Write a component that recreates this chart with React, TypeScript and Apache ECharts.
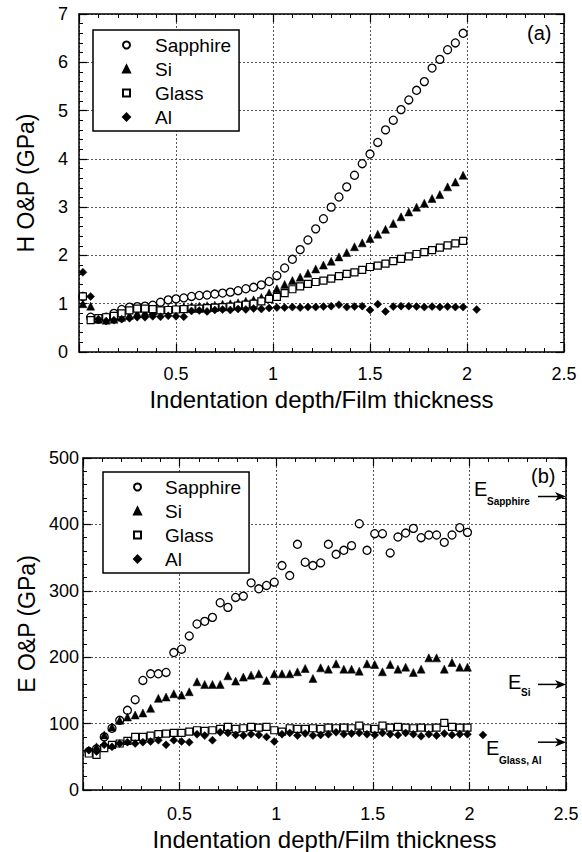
import React, { useEffect, useRef } from "react";
import * as echarts from "echarts";

// ---------- data ----------
const seriesNames = ["Sapphire", "Si", "Glass", "Al"];

const depthTop = [
  0.02, 0.06, 0.1, 0.14, 0.18, 0.22, 0.26, 0.3, 0.34, 0.38,
  0.42, 0.46, 0.5, 0.54, 0.58, 0.62, 0.66, 0.7, 0.74, 0.78,
  0.82, 0.86, 0.9, 0.94, 0.98, 1.02, 1.06, 1.1, 1.14, 1.18,
  1.22, 1.26, 1.3, 1.34, 1.38, 1.42, 1.46, 1.5, 1.54, 1.58,
  1.62, 1.66, 1.7, 1.74, 1.78, 1.82, 1.86, 1.9, 1.94, 1.98,
];
const alLastDepthTop = 2.05;

const hSapphire = [
  1.15, 0.72, 0.68, 0.72, 0.8, 0.88, 0.93, 0.94, 0.95, 0.97,
  1.03, 1.08, 1.1, 1.12, 1.15, 1.17, 1.18, 1.2, 1.22, 1.24,
  1.27, 1.31, 1.34, 1.39, 1.46, 1.58, 1.74, 1.92, 2.12, 2.32,
  2.55, 2.76, 3.0, 3.21, 3.42, 3.66, 3.9, 4.1, 4.34, 4.6,
  4.8, 5.02, 5.22, 5.42, 5.6, 5.88, 6.06, 6.26, 6.4, 6.6,
];
const hSi = [
  1.0, 0.95, 0.68, 0.66, 0.68, 0.72, 0.76, 0.8, 0.82, 0.85,
  0.88, 0.9, 0.92, 0.93, 0.94, 0.95, 0.96, 0.97, 0.99, 1.0,
  1.02, 1.05, 1.08, 1.13, 1.22, 1.31, 1.4, 1.48, 1.55, 1.63,
  1.72, 1.8, 1.88, 1.97, 2.06, 2.18, 2.26, 2.35, 2.44, 2.54,
  2.66, 2.8, 2.9, 3.0, 3.08, 3.18, 3.26, 3.42, 3.52, 3.66,
];
const hGlass = [
  1.15, 0.66, 0.7, 0.72, 0.75, 0.8, 0.86, 0.9, 0.9, 0.89,
  0.86, 0.87, 0.88, 0.89, 0.9, 0.9, 0.91, 0.92, 0.93, 0.94,
  0.96, 0.98, 1.0, 1.05, 1.1, 1.14, 1.22, 1.3, 1.36, 1.41,
  1.45, 1.48, 1.52, 1.57, 1.62, 1.65, 1.7, 1.76, 1.79, 1.83,
  1.88, 1.93, 1.98, 2.03, 2.07, 2.11, 2.16, 2.21, 2.25, 2.3,
];
const hAl = [
  1.65, 1.15, 0.68, 0.64, 0.66, 0.68, 0.7, 0.72, 0.72, 0.74,
  0.73, 0.75, 0.74, 0.73, 0.85, 0.86, 0.84, 0.87, 0.88, 0.87,
  0.89, 0.88, 0.9, 0.89, 0.91, 0.92, 0.92, 0.93, 0.92, 0.93,
  0.93, 0.94, 0.95, 0.98, 0.93, 0.94, 0.95, 0.87, 0.99, 0.84,
  0.94, 0.95, 0.95, 0.94, 0.93, 0.94, 0.93, 0.94, 0.93, 0.93,
  0.88,
];

const depthBottom = [
  0.03, 0.07, 0.11, 0.15, 0.19, 0.23, 0.27, 0.31, 0.35, 0.39,
  0.43, 0.47, 0.51, 0.55, 0.59, 0.63, 0.67, 0.71, 0.75, 0.79,
  0.83, 0.87, 0.91, 0.95, 0.99, 1.03, 1.07, 1.11, 1.15, 1.19,
  1.23, 1.27, 1.31, 1.35, 1.39, 1.43, 1.47, 1.51, 1.55, 1.59,
  1.63, 1.67, 1.71, 1.75, 1.79, 1.83, 1.87, 1.91, 1.95, 1.99,
];
const alLastDepthBottom = 2.07;

const eSapphire = [
  58, 62, 80, 93, 105, 120, 136, 165, 175, 175,
  177, 207, 212, 232, 250, 254, 260, 282, 275, 290,
  292, 312, 303, 308, 313, 338, 323, 370, 343, 338,
  342, 370, 355, 361, 368, 401, 361, 386, 386, 357,
  381, 387, 394, 380, 384, 384, 373, 384, 395, 388,
];
const eSi = [
  58, 65, 83, 95, 105, 110, 113, 116, 123, 138,
  140, 145, 143, 148, 163, 159, 159, 159, 172, 164,
  170, 173, 175, 165, 175, 175, 175, 178, 183, 168,
  184, 182, 190, 182, 182, 179, 190, 189, 178, 189,
  182, 185, 177, 182, 199, 199, 182, 192, 185, 185,
];
const eGlass = [
  55, 53, 63, 68, 70, 74, 80, 80, 82, 84,
  85, 86, 86, 88, 90, 89, 90, 92, 95, 92,
  93, 95, 94, 95, 90, 88, 93, 92, 92, 93,
  92, 94, 93, 94, 93, 97, 93, 92, 97, 94,
  95, 94, 93, 94, 93, 94, 101, 95, 94, 94,
];
const eAl = [
  60, 58, 68, 65, 70, 72, 70, 72, 73, 75,
  68, 75, 73, 72, 84, 82, 75, 87, 86, 83,
  82, 84, 83, 80, 73, 84, 86, 82, 85, 82,
  83, 84, 87, 84, 85, 86, 84, 83, 86, 84,
  83, 86, 84, 81, 84, 82, 85, 83, 84, 84,
  83,
];

// reference moduli drawn as arrows at the right edge of panel (b)
const modulusLabels = ["Sapphire", "Si", "Glass, Al"];
const modulusValues = [442, 159, 72];

const xTitle = "Indentation depth/Film thickness";
const yTitleTop = "H O&P (GPa)";
const yTitleBottom = "E O&P (GPa)";

// ---------- styling ----------
const FONT = "Liberation Sans, Arial, Helvetica, sans-serif";
const INK = "#000";

const symbolStyles: Record<string, any> = {
  Sapphire: { symbol: "circle", symbolSize: 8, itemStyle: { color: "#fff", borderColor: INK, borderWidth: 1.3, opacity: 1 } },
  Si: { symbol: "triangle", symbolSize: 8, itemStyle: { color: INK, borderColor: INK, borderWidth: 0.5, opacity: 1 } },
  Glass: { symbol: "rect", symbolSize: 7, itemStyle: { color: "#fff", borderColor: INK, borderWidth: 1.2, opacity: 1 } },
  Al: { symbol: "diamond", symbolSize: 8, itemStyle: { color: INK, borderColor: INK, borderWidth: 0.5, opacity: 1 } },
};

function pairs(xs: number[], ys: number[]) {
  return ys.map((y, i) => [xs[i], y]);
}

function xAxisPair(gridIndex: number, labelMargin: number, nameGap: number) {
  const common = {
    type: "value",
    gridIndex,
    min: 0,
    max: 2.5,
    interval: 0.5,
    axisLine: { show: true, onZero: false, lineStyle: { color: INK, width: 1.5 } },
    axisTick: { show: true, inside: true, length: 8, lineStyle: { color: INK, width: 1.2 } },
    minorTick: { show: true, splitNumber: 5, length: 4, lineStyle: { color: INK, width: 1 } },
  };
  return [
    {
      ...common,
      position: "bottom",
      splitLine: { show: true, lineStyle: { color: "#555", type: [2, 2], width: 1 } },
      axisLabel: {
        show: true,
        margin: labelMargin,
        fontSize: 18,
        color: INK,
        fontFamily: FONT,
        formatter: (v: number) => (v === 0 ? "" : String(v)),
      },
      name: xTitle,
      nameLocation: "middle",
      nameGap,
      nameTextStyle: { fontSize: 24, color: INK, fontFamily: FONT },
    },
    {
      ...common,
      position: "top",
      splitLine: { show: false },
      axisLabel: { show: false },
    },
  ];
}

function yAxisPair(gridIndex: number, max: number, interval: number, labelMargin: number, title: string, nameGap: number) {
  const common = {
    type: "value",
    gridIndex,
    min: 0,
    max,
    interval,
    axisLine: { show: true, onZero: false, lineStyle: { color: INK, width: 1.5 } },
    axisTick: { show: true, inside: true, length: 8, lineStyle: { color: INK, width: 1.2 } },
    minorTick: { show: true, splitNumber: 5, length: 4, lineStyle: { color: INK, width: 1 } },
  };
  return [
    {
      ...common,
      position: "left",
      splitLine: { show: true, lineStyle: { color: "#555", type: [2, 2], width: 1 } },
      axisLabel: { show: true, margin: labelMargin, fontSize: 18, color: INK, fontFamily: FONT },
      name: title,
      nameLocation: "middle",
      nameRotate: 90,
      nameGap,
      nameTextStyle: { fontSize: 23, color: INK, fontFamily: FONT },
    },
    {
      ...common,
      position: "right",
      splitLine: { show: false },
      axisLabel: { show: false },
    },
  ];
}

function legendAt(left: number, top: number, padLeft: number, textPad: number) {
  return {
    show: true,
    orient: "vertical",
    left,
    top,
    data: seriesNames,
    itemWidth: 7,
    itemHeight: 7,
    itemGap: 4,
    padding: [5, 8, 4, padLeft],
    borderColor: INK,
    borderWidth: 1.5,
    borderRadius: 0,
    backgroundColor: "#fff",
    selectedMode: false,
    textStyle: { fontFamily: FONT, fontSize: 19, color: INK, lineHeight: 20, padding: [0, 0, 0, textPad] },
  };
}

export default function App() {
  const ref = useRef<HTMLDivElement>(null);

  useEffect(() => {
    if (!ref.current) return;
    const chart = echarts.init(ref.current, null, { renderer: "svg" });

    const topSeries = [hSapphire, hSi, hGlass, hAl].map((vals, k) => {
      const name = seriesNames[k];
      const xs = name === "Al" ? [...depthTop, alLastDepthTop] : depthTop;
      return { type: "scatter", name, xAxisIndex: 0, yAxisIndex: 0, data: pairs(xs, vals), z: 3 + k, ...symbolStyles[name] };
    });
    const bottomSeries = [eSapphire, eSi, eGlass, eAl].map((vals, k) => {
      const name = seriesNames[k];
      const xs = name === "Al" ? [...depthBottom, alLastDepthBottom] : depthBottom;
      return { type: "scatter", name, xAxisIndex: 2, yAxisIndex: 2, data: pairs(xs, vals), z: 3 + k, ...symbolStyles[name] };
    });

    const topX = xAxisPair(0, 13, 35);
    const botX = xAxisPair(1, 15, 37);
    const topY = yAxisPair(0, 7, 1, 11, yTitleTop, 42);
    const botY = yAxisPair(1, 500, 100, 4, yTitleBottom, 42);

    chart.setOption({
      animation: false,
      backgroundColor: "#fff",
      grid: [
        { left: 79, top: 14, width: 485, height: 338 },
        { left: 83, top: 458, width: 483, height: 334 },
      ],
      xAxis: [...topX, ...botX],
      yAxis: [...topY, ...botY],
      legend: [legendAt(93, 30, 29, 20), legendAt(103, 472, 30, 19)],
      series: [...topSeries, ...bottomSeries],
    });

    // annotations positioned from axis values
    const annLayout = [
      { eDx: -92, eDy: -8, sDx: -79, sDy: 5 },
      { eDx: -58, eDy: -2, sDx: -45, sDy: 8 },
      { eDx: -80, eDy: 6, sDx: -67, sDy: 18 },
    ];
    const graphics: any[] = [];
    modulusValues.forEach((v, i) => {
      const p = chart.convertToPixel({ xAxisIndex: 2, yAxisIndex: 2 }, [2.5, v]) as number[];
      const xr = p[0];
      const y = p[1];
      const L = annLayout[i];
      graphics.push({
        type: "line",
        shape: { x1: xr - 28, y1: y, x2: xr - 8, y2: y },
        style: { stroke: INK, lineWidth: 1.5 },
        z: 20,
      });
      graphics.push({
        type: "polygon",
        shape: { points: [[xr - 11, y - 4.5], [xr, y], [xr - 11, y + 4.5], [xr - 8, y]] },
        style: { fill: INK },
        z: 20,
      });
      graphics.push({
        type: "text",
        x: xr + L.eDx,
        y: y + L.eDy,
        style: { text: "E", font: `20px ${FONT}`, fill: INK, verticalAlign: "middle" },
        z: 20,
      });
      graphics.push({
        type: "text",
        x: xr + L.sDx,
        y: y + L.sDy,
        style: { text: modulusLabels[i], font: `bold 10px ${FONT}`, fill: INK, verticalAlign: "middle" },
        z: 20,
      });
    });
    graphics.push({ type: "text", left: 527, top: 23, style: { text: "(a)", font: `20px ${FONT}`, fill: INK }, z: 20 });
    graphics.push({ type: "text", left: 531, top: 466, style: { text: "(b)", font: `20px ${FONT}`, fill: INK }, z: 20 });

    chart.setOption({ graphic: graphics });

    return () => chart.dispose();
  }, []);

  return (
    <div
      ref={ref}
      style={{ position: "absolute", left: 0, top: 0, width: 582, height: 852, background: "#fff" }}
    />
  );
}
